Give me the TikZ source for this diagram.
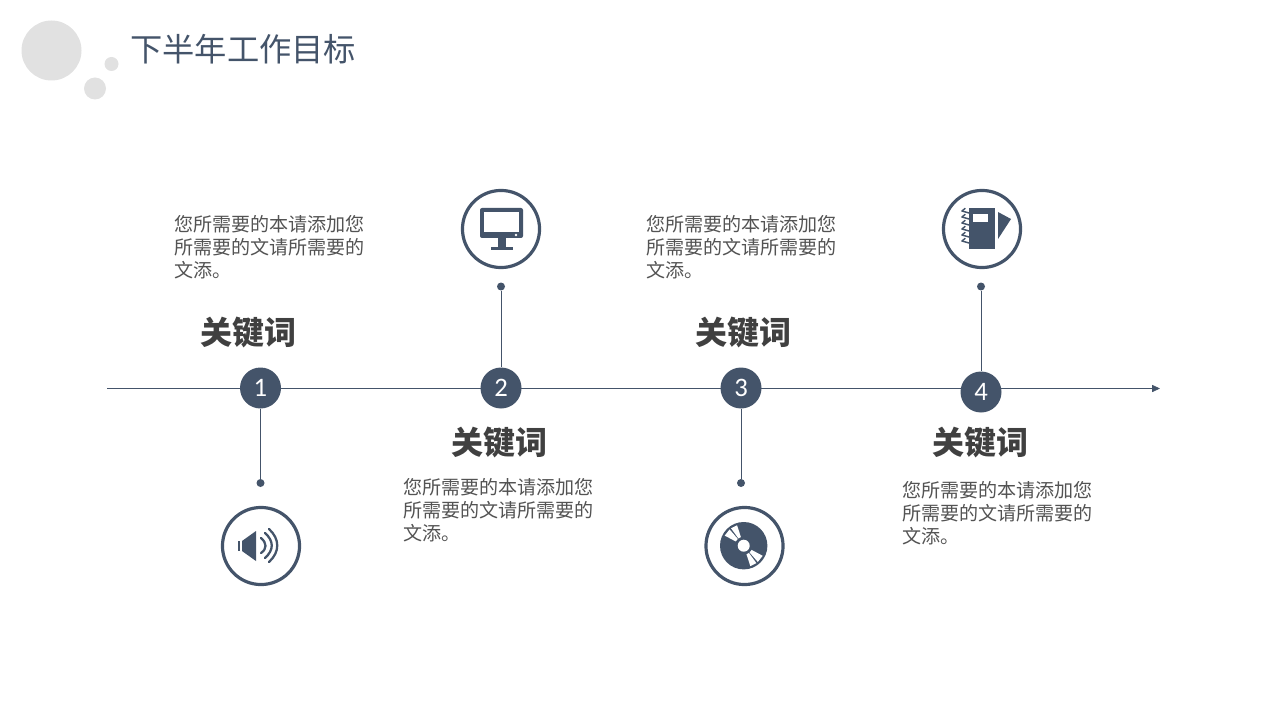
\documentclass[tikz,border=0pt]{standalone}
\usepackage{fontspec}
\setmainfont{Noto Sans CJK SC}
\newfontfamily\numfont{Carlito}
\usepackage{xcolor}
\usetikzlibrary{arrows.meta}
\definecolor{cNavy}{RGB}{68,84,106}
\definecolor{cInk}{RGB}{64,64,64}
\definecolor{cBubble}{RGB}{225,225,225}
\tikzset{
	numdot/.style={circle, fill=cNavy, text=white, inner sep=0pt,
		minimum size=30.75pt, font=\numfont\fontsize{20}{20}\selectfont},
	ringbox/.style={circle, draw=cNavy, line width=2.4pt, fill=white,
		inner sep=0pt, minimum size=57.8pt},
	stemdot/.style={circle, fill=cNavy, inner sep=0pt, minimum size=6pt},
	stem/.style={line width=0.6pt, draw=cNavy},
	axisline/.style={-{Stealth[length=6pt,width=5.4pt,inset=0pt]}, line width=0.6pt,
		draw=cNavy},
	keyword/.style={text=cInk, inner sep=0pt,
		font=\fontsize{24}{24}\selectfont\bfseries},
	bodytext/.style={text=cInk!90, inner sep=0pt, anchor=north west, align=left,
		font=\fontsize{14.3}{17.25}\selectfont},
	icon/.style={fill=cNavy},
	iconline/.style={draw=cNavy, line width=1.7pt, line cap=round},
	coilline/.style={draw=cNavy, line width=1.1pt, line cap=round},
}
\begin{document}
\begin{tikzpicture}[x=0.75pt,y=-0.75pt]
	\useasboundingbox (0,0) rectangle (1280,720);
	% bubbles and title
	\fill[cBubble] (51.5,50.5) circle (30);
	\fill[cBubble] (111.5,64) circle (7);
	\fill[cBubble] (95,88.5) circle (11);
	\node[anchor=west, inner sep=0pt, text=cNavy, font=\fontsize{24.2}{24}\selectfont] (title) at (130,49.5) {下半年工作目标};
	% axis
	\coordinate (axisstart) at (107,388.5);
	\coordinate (axisend) at (1160,388.5);
	\draw[axisline] (axisstart) -- (axisend);
	% numbered dots
	\node[numdot] (num1) at (260.5,388) {1};
	\node[numdot] (num2) at (501,388) {2};
	\node[numdot] (num3) at (741,388) {3};
	\node[numdot] (num4) at (981,392) {4};
	% stems
	\node[stemdot] (dot1) at (260.5,483) {};
	\node[stemdot] (dot2) at (501,286.5) {};
	\node[stemdot] (dot3) at (741,483) {};
	\node[stemdot] (dot4) at (981,286.5) {};
	\draw[stem] (num1) -- (dot1);
	\draw[stem] (num2) -- (dot2);
	\draw[stem] (num3) -- (dot3);
	\draw[stem] (num4) -- (dot4);
	% rings
	\node[ringbox] (ring1) at (261,546) {};
	\node[ringbox] (ring2) at (501,229) {};
	\node[ringbox] (ring3) at (744.5,546) {};
	\node[ringbox] (ring4) at (982,229) {};
	% keywords
	\node[keyword] (key1) at (248.5,332) {关键词};
	\node[keyword] (key2) at (499.5,442) {关键词};
	\node[keyword] (key3) at (743.5,332) {关键词};
	\node[keyword] (key4) at (980.5,442) {关键词};
	% body texts
	\node[bodytext] (text1) at (174,215) {您所需要的本请添加您\\所需要的文请所需要的\\文添。};
	\node[bodytext] (text2) at (403,478.5) {您所需要的本请添加您\\所需要的文请所需要的\\文添。};
	\node[bodytext] (text3) at (646,215) {您所需要的本请添加您\\所需要的文请所需要的\\文添。};
	\node[bodytext] (text4) at (902,481.5) {您所需要的本请添加您\\所需要的文请所需要的\\文添。};
	% speaker
	\fill[icon] (238,541) rectangle (240,551);
	\fill[icon] (242,541) -- (256,531) -- (256,561) -- (242,551) -- cycle;
	\draw[iconline] (261,538) .. controls (267,543) and (267,549) .. (261,553);
	\draw[iconline] (265,533) .. controls (274,541) and (274,550) .. (265,558);
	\draw[iconline] (269,529) .. controls (280,539) and (280,552) .. (269,562);
	% monitor
	\fill[icon, rounded corners=1.5pt] (480,208) rectangle (523,238);
	\fill[white] (483.5,212) rectangle (519,232);
	\fill[white] (516,235) circle (1.3);
	\fill[icon] (498,238) rectangle (506,247);
	\fill[icon] (491,247) rectangle (513,249.5);
	% disc
	\fill[icon] (743.7,545.7) circle (23.7);
	\fill[white] (743.7,545.7) circle (6);
	\begin{scope}[shift={(743.7,545.7)}]
		\fill[white] (-108:9) -- (-108:21.5) -- (-126:21.5) -- (-126:9) -- cycle;
		\fill[white] (-131:9) -- (-131:21.5) -- (-152:21.5) -- (-152:9) -- cycle;
		\fill[white] (72:9) -- (72:21.5) -- (54:21.5) -- (54:9) -- cycle;
		\fill[white] (49:9) -- (49:21.5) -- (28:21.5) -- (28:9) -- cycle;
	\end{scope}
	% notebook
	\fill[icon] (969,208) rectangle (995,249);
	\fill[white] (973,214) rectangle (988,222);
	\fill[icon] (998,212) -- (1011,219) -- (998,239) -- cycle;
	\draw[coilline] (962,211) -- (969,213) (962,217) -- (969,219) (962,223) -- (969,225)
		(962,229) -- (969,231) (962,235) -- (969,237) (962,241) -- (969,243);
	\draw[coilline] (962,211) -- (965,208.5) (962,217) -- (965,214.5) (962,223) -- (965,220.5)
		(962,229) -- (965,226.5) (962,235) -- (965,232.5) (962,241) -- (965,238.5);
\end{tikzpicture}
\end{document}
